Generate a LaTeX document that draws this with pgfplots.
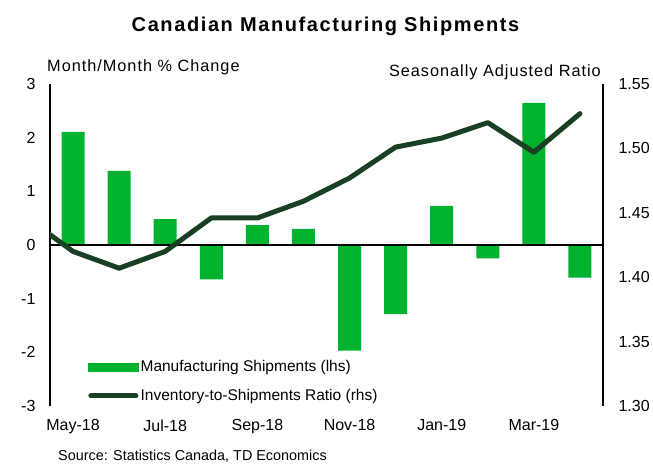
\documentclass[border=0pt]{standalone}
\usepackage{fontspec}
\setmainfont{Liberation Sans}
\usepackage{pgfplots}
\pgfplotsset{compat=1.18}

\definecolor{barg}{RGB}{0,178,45}
\definecolor{lineg}{RGB}{26,64,36}

\pgfplotsset{
  tdbase/.style={
    scale only axis, width=553pt, height=322pt,
    xmin=-0.5, xmax=11.5,
    major tick length=0pt,
    tick label style={font=\fontsize{16}{19}\selectfont},
    /pgf/number format/assume math mode=true,
    axis line style={line width=1.5pt, -},
  }
}

\begin{document}
\begin{tikzpicture}
\useasboundingbox (-50pt,-58pt) rectangle (603pt,406pt);

% bars, left axis
\begin{axis}[
  tdbase,
  ymin=-3, ymax=3,
  ytick={-3,-2,-1,0,1,2,3},
  axis y line*=left,
  axis x line*=bottom,
  x axis line style={draw=none},
  xtick={0,2,4,6,8,10},
  xticklabels={May-18,Jul-18,Sep-18,Nov-18,Jan-19,Mar-19},
  xticklabel style={yshift=-10pt},
  yticklabel style={xshift=-11pt},
]
\addplot[ybar, bar width=23pt, fill=barg, draw=none] coordinates {
  (0,2.11) (1,1.38) (2,0.48) (3,-0.64) (4,0.37) (5,0.30)
  (6,-1.97) (7,-1.29) (8,0.73) (9,-0.25) (10,2.65) (11,-0.61)
};
\draw[black, line width=1.5pt] (axis cs:-0.5,0) -- (axis cs:11.5,0);
\end{axis}

% ratio, right axis
\begin{axis}[
  tdbase,
  ymin=1.30, ymax=1.55,
  ytick={1.30,1.35,1.40,1.45,1.50,1.55},
  yticklabel style={/pgf/number format/fixed, /pgf/number format/fixed zerofill,
    /pgf/number format/precision=2, xshift=12pt},
  axis y line*=right,
  axis x line=none,
  legend style={draw=none, fill=none, at={(0.0687,0.005)}, anchor=south west,
    font=\fontsize{15.5}{18}\selectfont, row sep=12pt, inner sep=0pt,
    cells={anchor=west}},
]
\addlegendimage{legend image code/.code={\fill[barg] (0pt,-4pt) rectangle (50pt,4pt);}}
\addlegendentry{Manufacturing Shipments (lhs)}
\addplot[lineg, line width=5pt, line join=round, line cap=round,
  legend image code/.code={\draw (2.5pt,0pt) -- (47.5pt,0pt);}] coordinates {
  (-1,1.446) (0,1.420) (1,1.407) (2,1.420) (3,1.446) (4,1.446) (5,1.459)
  (6,1.477) (7,1.501) (8,1.508) (9,1.520) (10,1.497) (11,1.527)
};
\addlegendentry{Inventory-to-Shipments Ratio (rhs)}
\end{axis}

\node[anchor=base, font=\bfseries\fontsize{20}{24}\selectfont\addfontfeatures{LetterSpace=8}]
  at (275.5pt,374pt) {Canadian Manufacturing Shipments};
\node[anchor=base west, inner sep=0pt, font=\fontsize{16.3}{19}\selectfont\addfontfeatures{LetterSpace=6}]
  at (-3pt,334pt) {Month/Month \% Change};
\node[anchor=base east, inner sep=0pt, font=\fontsize{16.3}{19}\selectfont\addfontfeatures{LetterSpace=6}]
  at (551pt,329pt) {Seasonally Adjusted Ratio};
\node[anchor=base west, inner sep=0pt, font=\fontsize{14.4}{17}\selectfont]
  at (8pt,-54.5pt) {Source: Statistics Canada, TD Economics};
\end{tikzpicture}
\end{document}
